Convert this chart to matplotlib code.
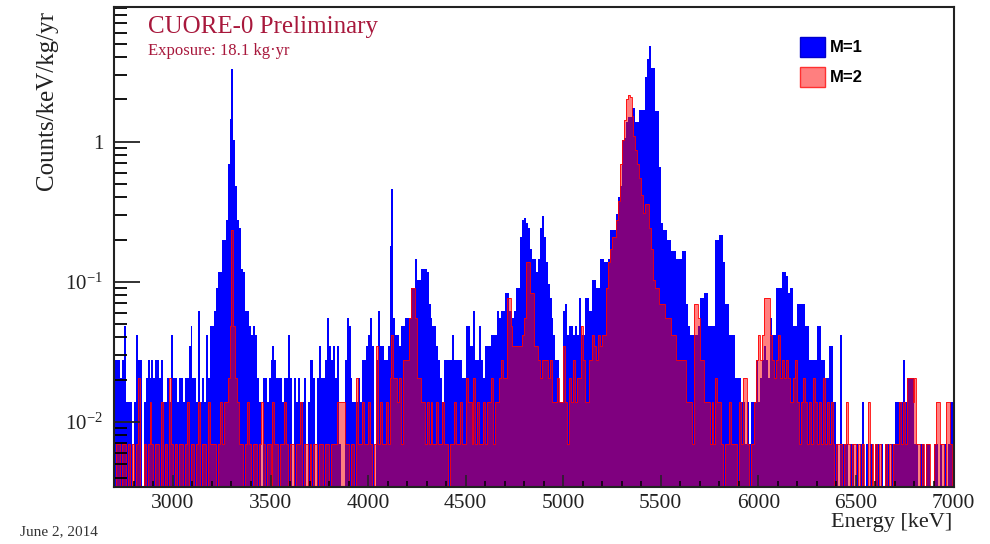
import numpy as np
import matplotlib.pyplot as plt
from matplotlib.patches import Rectangle
from matplotlib.ticker import (FixedLocator, FixedFormatter, LogLocator,
                               MultipleLocator, NullFormatter)

plt.rcParams['font.family'] = ['Liberation Serif', 'DejaVu Serif']
plt.rcParams['mathtext.fontset'] = 'custom'
plt.rcParams['mathtext.rm'] = 'Liberation Serif'

# 10 keV bins from 2700 to 7000 keV, counts per bin
E_MIN, E_MAX, BIN_WIDTH = 2700, 7000, 10
RATE_PER_COUNT = 0.0069  # counts/keV/kg/yr for a single event

# M=1 (single-crystal events)
m1_2700 = [4, 4, 4, 3, 4, 7, 2, 2, 2, 0, 2, 6, 4, 4, 0, 2, 3, 4, 3, 4, 3, 4, 4, 3, 4,
           2, 2, 3, 2, 6, 3, 3, 2, 3, 3, 2, 3, 3, 5, 7, 3, 3, 2, 9, 2, 3, 2, 6, 3, 7]
m1_3200 = [7, 9, 13, 17, 17, 29, 29, 40, 100, 210, 480, 150, 70, 40, 35, 18, 17, 9, 9, 7,
           6, 7, 6, 3, 2, 0, 3, 3, 2, 3, 4, 5, 4, 3, 3, 3, 2, 3, 3, 6, 3, 0, 3, 2, 3, 2, 2, 3, 0, 2]
m1_3700 = [4, 4, 3, 0, 3, 5, 3, 3, 4, 8, 5, 4, 5, 3, 5, 1, 0, 0, 4, 8, 7, 3, 2, 2, 2,
           3, 2, 4, 4, 5, 6, 8, 5, 0, 4, 9, 5, 5, 4, 4, 5, 26, 66, 8, 6, 6, 5, 7, 7, 8]
m1_4200 = [8, 8, 13, 13, 21, 15, 15, 18, 18, 18, 17, 10, 8, 7, 7, 5, 4, 3, 2, 4, 4, 4, 4, 6, 4,
           4, 4, 4, 3, 3, 7, 7, 5, 5, 9, 4, 4, 7, 4, 3, 5, 5, 5, 6, 6, 6, 9, 8, 9, 9]
m1_4700 = [12, 12, 9, 9, 8, 9, 13, 13, 30, 40, 41, 38, 35, 25, 21, 21, 17, 21, 35, 43,
           30, 20, 14, 11, 8, 6, 4, 4, 2, 2, 9, 10, 6, 7, 7, 6, 7, 6, 11, 6,
           6, 11, 11, 9, 9, 15, 15, 13, 13, 21]
m1_5200 = [21, 20, 20, 21, 34, 34, 34, 44, 58, 70, 150, 155, 200, 217, 217, 250, 250, 200, 200, 245,
           245, 245, 420, 560, 700, 490, 490, 240, 240, 95, 38, 34, 34, 29, 29, 24, 24, 24, 21, 21,
           21, 24, 24, 10, 7, 6, 6, 6, 6, 7]
m1_5700 = [11, 11, 12, 12, 7, 7, 7, 7, 29, 29, 31, 31, 20, 10, 10, 6, 6, 6, 3, 3, 3, 2, 2, 1, 2,
           1, 2, 2, 2, 4, 2, 3, 4, 5, 4, 3, 8, 6, 6, 13, 13, 13, 17, 17, 16, 12, 13, 13, 7, 7]
m1_6200 = [10, 10, 10, 10, 7, 7, 4, 4, 4, 4, 7, 7, 4, 4, 3, 3, 5, 5, 2, 2, 1, 0, 6, 1, 1,
           1, 0, 1, 1, 0, 1, 0, 1, 2, 0, 1, 0, 1, 1, 0, 1, 1, 0, 1, 0, 1, 1, 0, 1, 1]
m1_6700 = [2, 2, 2, 2, 4, 2, 3, 3, 3, 3, 1, 1, 0, 1, 1, 0, 1, 1, 0, 0, 1, 1, 0, 1, 0, 1, 0, 1, 2, 2]

# M=2 (two-crystal coincidences)
m2_2700 = [0, 1, 1, 0, 1, 1, 0, 1, 0, 1, 0, 1, 3, 0, 0, 1, 0, 1, 2, 1, 0, 1, 1, 0, 2,
           0, 1, 0, 3, 1, 0, 1, 0, 1, 1, 0, 1, 2, 0, 1, 1, 0, 1, 2, 0, 1, 1, 0, 2, 1]
m2_3200 = [1, 1, 0, 1, 2, 1, 2, 2, 3, 7, 34, 7, 3, 2, 1, 1, 0, 1, 2, 1, 0, 1, 1, 0, 1,
           2, 1, 0, 1, 1, 0, 2, 1, 1, 0, 1, 1, 2, 1, 0, 1, 1, 0, 1, 1, 2, 0, 1, 1, 0]
m2_3700 = [1, 0, 1, 1, 0, 1, 1, 0, 1, 1, 0, 1, 1, 1, 2, 2, 2, 2, 1, 1, 0, 1, 1, 0, 3,
           1, 1, 2, 1, 1, 2, 1, 0, 1, 5, 1, 2, 1, 1, 2, 1, 3, 6, 3, 3, 2, 3, 1, 4, 4]
m2_4200 = [4, 8, 13, 13, 8, 3, 3, 2, 2, 1, 2, 1, 2, 1, 1, 2, 1, 1, 2, 1, 1, 0, 1, 1, 2,
           1, 1, 2, 1, 1, 3, 2, 2, 1, 3, 1, 2, 1, 1, 2, 1, 2, 2, 3, 1, 2, 2, 3, 4, 3]
m2_4700 = [3, 11, 11, 7, 5, 5, 5, 5, 5, 6, 8, 20, 20, 12, 12, 5, 5, 4, 3, 4, 4, 4, 3, 4, 2,
           2, 2, 3, 2, 2, 5, 2, 1, 3, 2, 4, 2, 3, 3, 7, 4, 2, 2, 4, 4, 6, 5, 4, 6, 5]
m2_5200 = [6, 6, 13, 20, 25, 30, 30, 40, 55, 100, 150, 207, 290, 313, 300, 220, 160, 126, 100, 80,
           60, 45, 52, 52, 35, 25, 15, 13, 13, 10, 10, 10, 8, 8, 8, 6, 6, 6, 4, 4,
           4, 4, 4, 2, 2, 2, 1, 10, 10, 8]
m2_5700 = [4, 4, 2, 2, 2, 1, 2, 1, 3, 2, 2, 1, 0, 1, 1, 2, 1, 1, 1, 0, 2, 1, 3, 3, 1,
           0, 1, 1, 2, 4, 6, 4, 6, 11, 11, 11, 6, 4, 3, 4, 6, 3, 4, 3, 4, 3, 2, 2, 3, 4]
m2_6200 = [2, 1, 2, 3, 2, 1, 2, 1, 3, 2, 1, 2, 1, 3, 1, 2, 1, 2, 1, 0, 1, 1, 1, 0, 1,
           2, 1, 0, 1, 1, 0, 1, 0, 1, 0, 0, 2, 0, 1, 0, 1, 0, 1, 0, 0, 1, 0, 1, 0, 1]
m2_6700 = [1, 1, 2, 1, 2, 1, 3, 3, 3, 2, 3, 1, 1, 0, 1, 0, 1, 1, 0, 0, 1, 2, 2, 1, 1, 0, 2, 2, 1, 0]

m1 = np.concatenate([m1_2700, m1_3200, m1_3700, m1_4200, m1_4700,
                     m1_5200, m1_5700, m1_6200, m1_6700]).astype(float)
m2 = np.concatenate([m2_2700, m2_3200, m2_3700, m2_4200, m2_4700,
                     m2_5200, m2_5700, m2_6200, m2_6700]).astype(float)
edges = np.arange(E_MIN, E_MAX + BIN_WIDTH, BIN_WIDTH)

# empty bins go below the axis so the log scale stays happy
floor = 1e-4
rate1 = np.where(m1 > 0, m1 * RATE_PER_COUNT, floor)
rate2 = np.where(m2 > 0, m2 * RATE_PER_COUNT, floor)

W, H = 990, 544
fig = plt.figure(figsize=(W / 100, H / 100), dpi=100)
ax = fig.add_axes([114.4 / W, 1 - 486.7 / H, (953.5 - 114.4) / W, (486.7 - 7.3) / H])

ax.stairs(rate1, edges, baseline=floor, fill=True, facecolor='#0000ff', edgecolor='none')
ax.stairs(rate2, edges, baseline=floor, fill=True, facecolor=(1, 0, 0, 0.5), edgecolor='none')
ax.stairs(rate2, edges, baseline=floor, color='#ff0000', lw=0.6)

ax.set_yscale('log')
ax.set_xlim(E_MIN, E_MAX)
ax.set_ylim(0.00344, 9.1)

ax.xaxis.set_major_locator(MultipleLocator(500))
ax.xaxis.set_minor_locator(MultipleLocator(100))
ax.yaxis.set_major_locator(FixedLocator([0.01, 0.1, 1]))
ax.yaxis.set_major_formatter(FixedFormatter([r'$\mathregular{10^{-2}}$',
                                             r'$\mathregular{10^{-1}}$', '1']))
ax.yaxis.set_minor_locator(LogLocator(base=10, subs=np.arange(2, 10), numticks=20))
ax.yaxis.set_minor_formatter(NullFormatter())

ax.tick_params(axis='x', which='major', direction='in', length=8.5, width=1.1,
               top=False, labelsize=15.5, pad=5, colors='#222222')
ax.tick_params(axis='x', which='minor', direction='in', length=4.3, width=1.1, top=False)
ax.tick_params(axis='y', which='major', direction='in', length=19, width=1.3,
               right=False, labelsize=15, pad=8, colors='#222222')
ax.tick_params(axis='y', which='minor', direction='in', length=9.5, width=1.3, right=False)
for sp in ax.spines.values():
    sp.set_linewidth(1.5)
    sp.set_color('#222222')

title_red = '#a8183c'
fig.text(148 / W, 1 - 27 / H, 'CUORE-0 Preliminary', fontsize=18, color=title_red,
         ha='left', va='center')
fig.text(148 / W, 1 - 51 / H, 'Exposure: 18.1 kg\u00b7yr', fontsize=12, color=title_red,
         ha='left', va='center')

fig.text(47 / W, 1 - 100 / H, 'Counts/keV/kg/yr', fontsize=18, rotation=90,
         ha='center', va='center', color='#222222')
fig.text(952 / W, 1 - 523 / H, 'Energy [keV]', fontsize=16, ha='right', va='center',
         color='#222222')
fig.text(20 / W, 1 - 532 / H, 'June 2, 2014', fontsize=11, ha='left', va='center',
         color='#333333')

# legend boxes
fig.patches.append(Rectangle((800 / W, 1 - 57 / H), 25 / W, 20 / H, transform=fig.transFigure,
                             facecolor='#0000ff', edgecolor='#0000cc', lw=1))
fig.patches.append(Rectangle((800 / W, 1 - 87 / H), 25 / W, 20 / H, transform=fig.transFigure,
                             facecolor='#ff7f7f', edgecolor='#ff3030', lw=1))
fig.text(830 / W, 1 - 47 / H, 'M=1', fontsize=12, fontweight='bold',
         family=['Liberation Sans', 'DejaVu Sans'], ha='left', va='center')
fig.text(830 / W, 1 - 77 / H, 'M=2', fontsize=12, fontweight='bold',
         family=['Liberation Sans', 'DejaVu Sans'], ha='left', va='center')

fig.savefig('out.png', dpi=100)
